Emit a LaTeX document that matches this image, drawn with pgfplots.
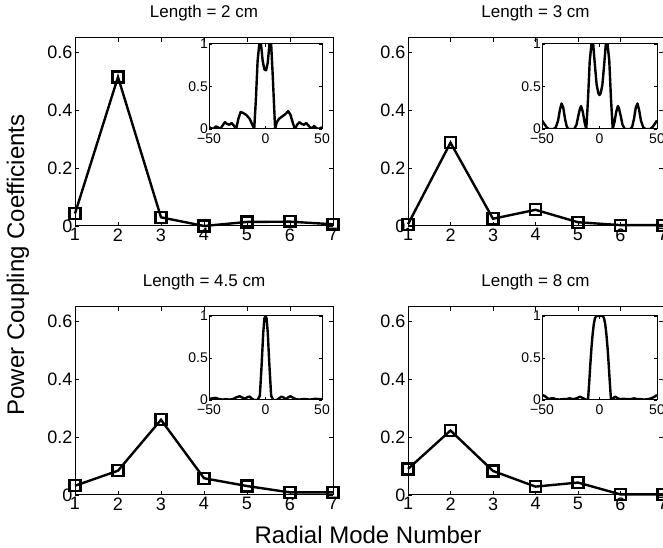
\documentclass[border=0pt]{standalone}
\usepackage{fontspec}
\setmainfont{Liberation Sans}
\usepackage{pgfplots}
\pgfplotsset{compat=1.18}
\pgfplotsset{
  mainax/.style={scale only axis, width=258pt, height=188pt, anchor=south west,
    xmin=1, xmax=7, ymin=0, ymax=0.65, xtick={1,...,7}, ytick={0,0.2,0.4,0.6},
    tick align=inside, major tick length=4pt, clip=false,
    axis line style={line width=1pt}, every tick/.style={black, line width=0.8pt},
    /pgf/number format/assume math mode=true,
    tick label style={font=\fontsize{18}{18}\selectfont},
    xticklabel style={yshift=1pt}, yticklabel style={xshift=1pt},
    title style={font=\fontsize{17}{17}\selectfont, yshift=7pt}},
  inax/.style={scale only axis, width=113pt, height=85pt, anchor=south west,
    xmin=-50, xmax=50, ymin=0, ymax=1, xtick={-50,0,50}, xticklabels={−50,0,50},
    ytick={0,0.5,1}, yticklabels={0,0.5,1},
    tick align=inside, major tick length=3pt,
    axis background/.style={fill=white},
    axis line style={line width=1pt}, every tick/.style={black, line width=0.8pt},
    tick label style={font=\fontsize{14}{14}\selectfont, inner sep=1pt},
    xticklabel style={yshift=-3.5pt}},
  mainline/.style={black, line width=2.4pt, mark=square, mark size=5.5pt, mark options={solid, line width=2.2pt}},
  inline/.style={black, line width=2.4pt, no marks, line join=round}
}
\begin{document}
\begin{tikzpicture}
\useasboundingbox (0,0) rectangle (663pt,548pt);
% Top left
\begin{axis}[mainax, at={(75pt,322pt)}, title={Length = 2 cm}]
\addplot[mainline] coordinates {(1,0.043) (2,0.515) (3,0.03) (4,0.0) (5,0.014) (6,0.015) (7,0.006)};
\end{axis}
\begin{axis}[inax, at={(209pt,419pt)}]
\addplot[inline] coordinates {(-50,0.02) (-48,0.01) (-46,0) (-44,0.03) (-42,0.02) (-40,0) (-38,0.04) (-36,0.08) (-34,0.06) (-32,0.05) (-30,0.07) (-28,0.04) (-26,0) (-24,0.12) (-22,0.2) (-20,0.19) (-17,0.165) (-14,0.12) (-12,0.06) (-10,0) (-8.5,0.35) (-7,0.8) (-5.5,1.0) (-4,1.0) (-2.5,0.8) (-1,0.7) (0.5,0.69) (2,0.78) (3.5,1.0) (5,1.0) (6.5,0.6) (8.5,0) (10,0.08) (12,0.12) (15,0.15) (18,0.18) (20,0.21) (22,0.17) (24,0.08) (26,0) (28,0.05) (30,0.08) (32,0.06) (34,0.05) (36,0.07) (38,0.04) (40,0.01) (42,0.02) (43,0.035) (45,0.01) (47,0) (50,0.02)};
\end{axis}
% Top right
\begin{axis}[mainax, at={(408pt,322pt)}, width=255pt, title={Length = 3 cm}]
\addplot[mainline] coordinates {(1,0.006) (2,0.288) (3,0.025) (4,0.056) (5,0.013) (6,0.003) (7,0.003)};
\end{axis}
\begin{axis}[inax, at={(542pt,419pt)}, width=115pt]
\addplot[inline] coordinates {(-50,0.1) (-48,0.06) (-46,0.02) (-44,0) (-40,0) (-38,0.02) (-36,0.1) (-34.5,0.22) (-33,0.3) (-31.5,0.25) (-30,0.12) (-28.5,0.03) (-27,0) (-22,0) (-20,0.05) (-18.5,0.15) (-17,0.24) (-16,0.27) (-14.5,0.2) (-13,0.08) (-11.5,0) (-10,0.35) (-8.5,0.8) (-7,1.0) (-5.5,1.0) (-4,0.75) (-2.5,0.52) (-1,0.42) (0,0.40) (1,0.42) (2.5,0.52) (4,0.75) (5.5,1.0) (7,1.0) (8.5,0.8) (10,0.35) (11.5,0) (13,0.08) (14.5,0.2) (16,0.27) (17,0.24) (18.5,0.15) (20,0.05) (22,0) (27,0) (28.5,0.03) (30,0.12) (31.5,0.25) (33,0.3) (34.5,0.22) (36,0.1) (38,0.02) (40,0) (44,0) (46,0.02) (48,0.06) (50,0.1)};
\end{axis}
% Bottom left
\begin{axis}[mainax, at={(75pt,53pt)}, title={Length = 4.5 cm}]
\addplot[mainline] coordinates {(1,0.032) (2,0.084) (3,0.26) (4,0.058) (5,0.031) (6,0.009) (7,0.009)};
\end{axis}
\begin{axis}[inax, at={(209pt,148pt)}, height=84pt]
\addplot[inline] coordinates {(-50,0.01) (-47,0.02) (-44,0.025) (-41,0.01) (-38,0.005) (-35,0.01) (-32,0.005) (-29,0.01) (-26,0.03) (-23,0.045) (-20,0.025) (-18,0.015) (-16,0.035) (-14,0.04) (-12,0.015) (-10,0) (-7,0) (-5,0.05) (-3.5,0.4) (-2,0.8) (-1,0.97) (0,1) (1,0.97) (2,0.8) (3.5,0.4) (5,0.05) (7,0) (10,0) (12,0.02) (14,0.04) (16,0.03) (18,0.01) (20,0.03) (22,0.045) (24,0.03) (27,0.01) (30,0.005) (33,0.01) (36,0.01) (39,0.005) (42,0.01) (44,0.015) (47,0.01) (50,0.01)};
\end{axis}
% Bottom right
\begin{axis}[mainax, at={(408pt,53pt)}, width=255pt, title={Length = 8 cm}]
\addplot[mainline] coordinates {(1,0.09) (2,0.223) (3,0.083) (4,0.029) (5,0.043) (6,0.002) (7,0.002)};
\end{axis}
\begin{axis}[inax, at={(542pt,148pt)}, width=115pt, height=84pt]
\addplot[inline] coordinates {(-50,0.06) (-48,0.05) (-46,0.03) (-44,0.01) (-42,0.02) (-40,0.02) (-38,0.01) (-35,0.005) (-32,0.01) (-29,0.01) (-26,0.02) (-23,0.01) (-20,0.02) (-17,0.04) (-14,0.02) (-12,0.005) (-10,0) (-9,0.2) (-8,0.42) (-7,0.62) (-6,0.78) (-5,0.9) (-4,0.97) (-3,1.0) (-1.5,1.0) (0,1.0) (1.5,1.0) (3,1.0) (4,0.97) (5,0.9) (6,0.78) (7,0.62) (8,0.42) (9,0.2) (10,0) (12,0.02) (13.5,0.04) (16,0.02) (18,0.01) (21,0.015) (24,0.01) (27,0.01) (30,0.02) (33,0.01) (36,0.01) (39,0.005) (42,0.01) (45,0.02) (48,0.04) (50,0.06)};
\end{axis}
\node[rotate=90, font=\fontsize{24}{24}\selectfont] at (18pt,283pt) {Power Coupling Coefficients};
\node[font=\fontsize{24}{24}\selectfont] at (368pt,13pt) {Radial Mode Number};
\end{tikzpicture}
\end{document}
